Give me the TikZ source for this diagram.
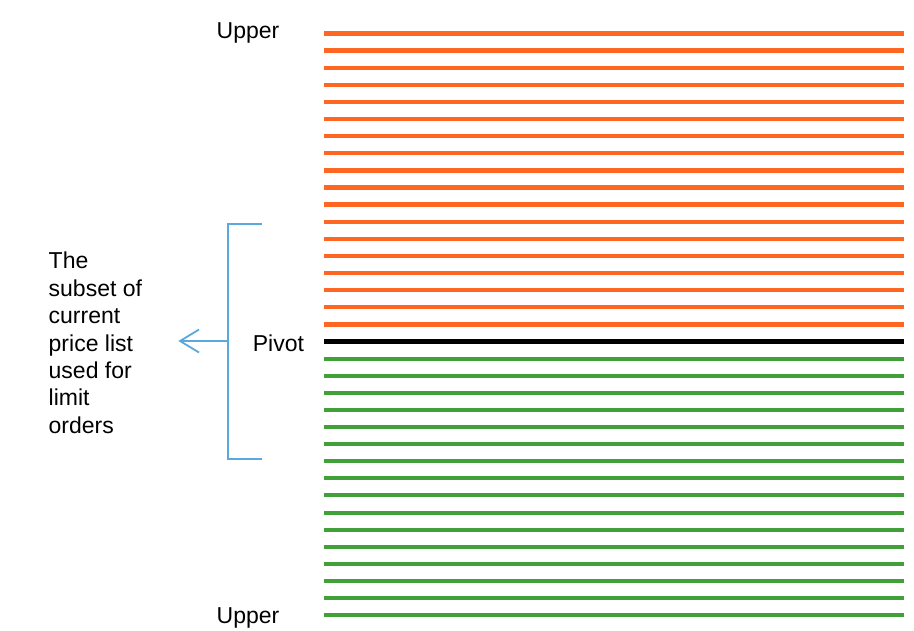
\documentclass[tikz,border=0pt]{standalone}
\usepackage{fontspec}
\setmainfont{Liberation Sans}
\usetikzlibrary{arrows.meta}
\definecolor{askorange}{RGB}{255,102,34}
\definecolor{bidgreen}{RGB}{66,160,56}
\definecolor{bracketblue}{RGB}{90,168,222}
\tikzset{
  lbl/.style={inner sep=0pt, font=\fontsize{23}{27.4}\selectfont},
  askline/.style={askorange, line width=4.4pt},
  pivline/.style={black, line width=4.4pt},
  bidline/.style={bidgreen, line width=4pt},
  brk/.style={bracketblue, line width=1.8pt},
}
\begin{document}
\begin{tikzpicture}[x=1pt,y=-1pt]
\useasboundingbox (0,0) rectangle (914,630);
% price levels
\foreach \i in {0,...,17}{
  \draw[askline] (324,{33.5+17.11*\i}) -- (904,{33.5+17.11*\i});
}
\draw[pivline] (324,{33.5+17.11*18}) -- (904,{33.5+17.11*18});
\foreach \i in {19,...,34}{
  \draw[bidline] (324,{33.5+17.11*\i}) -- (904,{33.5+17.11*\i});
}
% labels
\node[lbl, anchor=base west] (uppertop) at (216.5,38.3) {Upper};
\node[lbl, anchor=base west] (upperbot) at (216.5,623.3) {Upper};
\node[lbl, anchor=base west] (pivot) at (252.7,351.7) {Pivot};
\node[lbl, anchor=north west, align=left] (subset) at (48.5,252.0)
  {The\\subset of\\current\\price list\\used for\\limit\\orders};
% bracket
\coordinate (btop) at (261.7,224);
\coordinate (bbot) at (261.7,459.3);
\coordinate (bmid) at (227.7,341);
\coordinate (tip) at (178.3,341);
\draw[brk] (btop) -- (227.7,224) -- (227.7,459.3) -- (bbot);
\draw[brk, -{Straight Barb[length=19pt, width=23pt, line width=1.8pt]}] (bmid) -- (tip);
\end{tikzpicture}
\end{document}
